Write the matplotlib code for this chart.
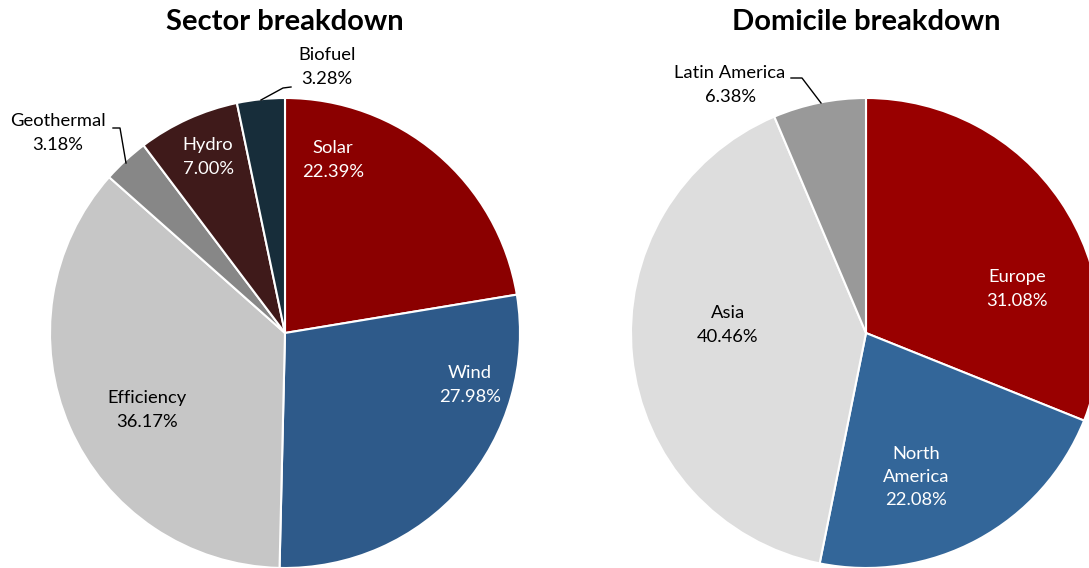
import matplotlib.pyplot as plt

plt.rcParams['font.family'] = ['Lato', 'DejaVu Sans']

# sector breakdown (clockwise from 12 o'clock)
sector_names = ["Solar", "Wind", "Efficiency", "Geothermal", "Hydro", "Biofuel"]
sector_pct = [22.39, 27.98, 36.17, 3.18, 7.00, 3.28]
sector_colors = ["#8b0000", "#2e5a8a", "#c6c6c6", "#878787", "#3f1a1a", "#172d3a"]

# domicile breakdown
dom_names = ["Europe", "North\nAmerica", "Asia", "Latin America"]
dom_pct = [31.08, 22.08, 40.46, 6.38]
dom_colors = ["#990000", "#336699", "#dddddd", "#999999"]

W, H = 1089, 568
fig = plt.figure(figsize=(W / 100, H / 100), dpi=100)
ax = fig.add_axes([0, 0, 1, 1])

R = 235
c1 = (285, H - 333)
c2 = (866, H - 333)

ax.pie(sector_pct, colors=sector_colors, startangle=90, counterclock=False,
       center=c1, radius=R, frame=True,
       wedgeprops=dict(edgecolor='white', linewidth=1.5))
ax.pie(dom_pct, colors=dom_colors, startangle=90, counterclock=False,
       center=c2, radius=R, frame=True,
       wedgeprops=dict(edgecolor='white', linewidth=1.5))
ax.set_xlim(0, W)
ax.set_ylim(0, H)
ax.set_aspect('equal')
ax.axis('off')

fs = 13.2
def lab(x, y, name, pct, color):
    ax.text(x, H - y, f"{name}\n{pct:.2f}%", ha='center', va='center',
            color=color, fontsize=fs, linespacing=1.55)

lab(333, 160, sector_names[0], sector_pct[0], 'white')
lab(470, 385, sector_names[1], sector_pct[1], 'white')
lab(147, 410, sector_names[2], sector_pct[2], 'black')
lab(58, 133, sector_names[3], sector_pct[3], 'black')
lab(208, 157, sector_names[4], sector_pct[4], 'white')
lab(327, 67, sector_names[5], sector_pct[5], 'black')

lab(1017, 289, dom_names[0], dom_pct[0], 'white')
lab(916, 477, dom_names[1], dom_pct[1], 'white')
lab(728, 325, dom_names[2], dom_pct[2], 'black')
lab(730, 85, dom_names[3], dom_pct[3], 'black')

# leader lines
ax.plot([113, 120, 126], [H - 128, H - 128, H - 163], color='black', lw=1)
ax.plot([291, 283, 261], [H - 87, H - 88, H - 100], color='black', lw=1)
ax.plot([791, 802, 821], [H - 78, H - 78, H - 103], color='black', lw=1)

ax.text(285, H - 22, "Sector breakdown", ha='center', va='center',
        fontsize=21, fontweight='bold')
ax.text(866, H - 22, "Domicile breakdown", ha='center', va='center',
        fontsize=21, fontweight='bold')

fig.savefig("out.png", dpi=100)
